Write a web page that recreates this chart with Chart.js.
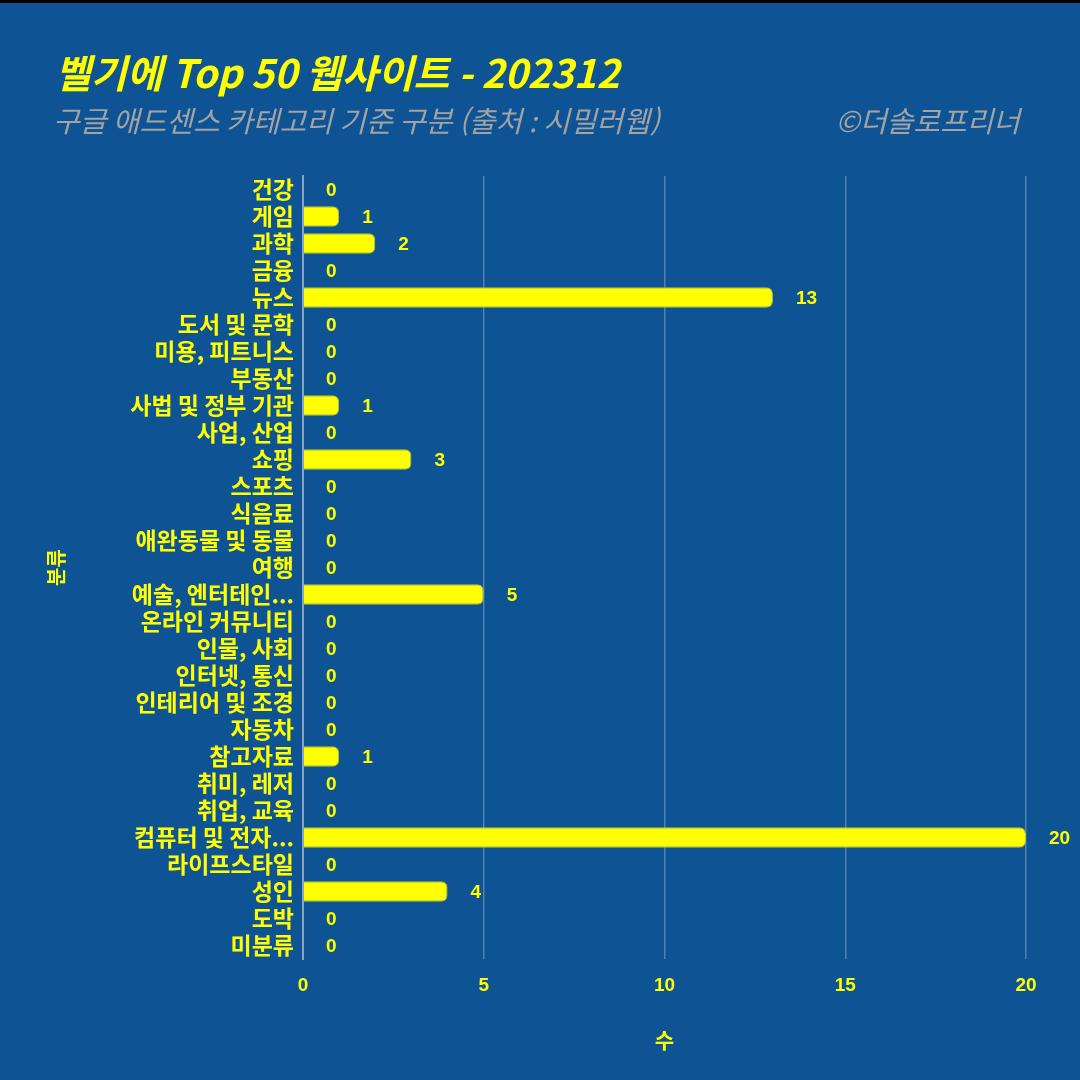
<!DOCTYPE html>
<html lang="ko">
<head>
    <meta charset="UTF-8">
    <title>벨기에 Top 50 웹사이트 - 202312</title>
    <script src="https://cdn.jsdelivr.net/npm/chart.js"></script>
    <style>
        html, body {
            margin: 0;
            padding: 0;
            background-color: #0e5394;
        }
        #wrap {
            width: 1080px;
            height: 1080px;
        }
    </style>
</head>
<body>
    <div id="wrap">
        <canvas id="siteChart"></canvas>
    </div>

    <script>
        const categories = [
            '건강', '게임', '과학', '금융', '뉴스', '도서 및 문학', '미용, 피트니스', '부동산',
            '사법 및 정부 기관', '사업, 산업', '쇼핑', '스포츠', '식음료', '애완동물 및 동물', '여행',
            '예술, 엔터테인...', '온라인 커뮤니티', '인물, 사회', '인터넷, 통신', '인테리어 및 조경',
            '자동차', '참고자료', '취미, 레저', '취업, 교육', '컴퓨터 및 전자...', '라이프스타일',
            '성인', '도박', '미분류'
        ];
        const counts = [
            0, 1, 2, 0, 13, 0, 0, 0,
            1, 0, 3, 0, 0, 0, 0,
            5, 0, 0, 0, 0,
            0, 1, 0, 0, 20, 0,
            4, 0, 0
        ];
        const titleText = '벨기에 Top 50 웹사이트 - 202312';
        const subtitleText = '구글 애드센스 카테고리 기준 구분 (출처 : 시밀러웹)';
        const creditText = '©더솔로프리너';

        const yellow = '#ffff00';
        const korFont = "'Noto Sans CJK KR', 'Noto Sans', sans-serif";

        // background + header texts
        const headerPlugin = {
            id: 'header',
            beforeDraw(chart) {
                const ctx = chart.ctx;
                ctx.save();
                ctx.fillStyle = '#0e5394';
                ctx.fillRect(0, 0, chart.width, chart.height);
                ctx.fillStyle = '#000000';
                ctx.fillRect(0, 0, chart.width, 3);
                ctx.restore();
            },
            afterDraw(chart) {
                const ctx = chart.ctx;
                ctx.save();
                ctx.textBaseline = 'middle';
                ctx.fillStyle = yellow;
                ctx.font = 'italic bold 39px ' + korFont;
                ctx.textAlign = 'left';
                ctx.fillText(titleText, 55, 73);

                ctx.fillStyle = '#a3a3a3';
                ctx.font = 'italic 29px ' + korFont;
                ctx.fillText(subtitleText, 53, 121);
                ctx.textAlign = 'right';
                ctx.fillText(creditText, 1020, 121);
                ctx.restore();
            }
        };

        // number next to each bar
        const valueLabels = {
            id: 'valueLabels',
            afterDatasetsDraw(chart) {
                const ctx = chart.ctx;
                const meta = chart.getDatasetMeta(0);
                ctx.save();
                ctx.fillStyle = yellow;
                ctx.font = "bold 19px 'Liberation Sans', sans-serif";
                ctx.textAlign = 'left';
                ctx.textBaseline = 'middle';
                meta.data.forEach((bar, i) => {
                    ctx.fillText(String(counts[i]), bar.x + 23, bar.y + 1);
                });
                ctx.restore();
            }
        };

        const ctx = document.getElementById('siteChart').getContext('2d');
        const siteChart = new Chart(ctx, {
            type: 'bar',
            data: {
                labels: categories,
                datasets: [{
                    label: '수',
                    data: counts,
                    backgroundColor: yellow,
                    borderColor: '#b8c23a',
                    borderWidth: 1,
                    borderRadius: 6,
                    borderSkipped: 'start',
                    barPercentage: 0.76,
                    categoryPercentage: 1.0
                }]
            },
            options: {
                indexAxis: 'y',
                responsive: true,
                maintainAspectRatio: false,
                animation: false,
                layout: {
                    padding: { top: 176, left: 44, right: 54, bottom: 27 }
                },
                plugins: {
                    legend: { display: false },
                    tooltip: { enabled: false }
                },
                scales: {
                    x: {
                        min: 0,
                        max: 20,
                        ticks: {
                            stepSize: 5,
                            color: yellow,
                            padding: 15,
                            font: { family: "'Liberation Sans', sans-serif", size: 19, weight: 'bold' }
                        },
                        grid: {
                            color: 'rgba(200, 215, 235, 0.35)',
                            lineWidth: 1.5,
                            drawTicks: false
                        },
                        border: { display: false },
                        title: {
                            display: true,
                            text: '수',
                            color: yellow,
                            padding: { top: 16, bottom: 0 },
                            font: { family: korFont, size: 21, weight: 'bold' }
                        }
                    },
                    y: {
                        ticks: {
                            color: yellow,
                            padding: 9,
                            autoSkip: false,
                            font: { family: korFont, size: 23, weight: 'bold' }
                        },
                        grid: { display: false, drawTicks: false },
                        border: { display: true, color: '#8aa4bf', width: 2 },
                        title: {
                            display: true,
                            text: '분류',
                            color: yellow,
                            padding: 0,
                            font: { family: korFont, size: 20, weight: 'bold' }
                        },
                        afterFit(scale) {
                            scale.width = 303 - 44;
                        }
                    }
                }
            },
            plugins: [headerPlugin, valueLabels]
        });
    </script>
</body>
</html>
